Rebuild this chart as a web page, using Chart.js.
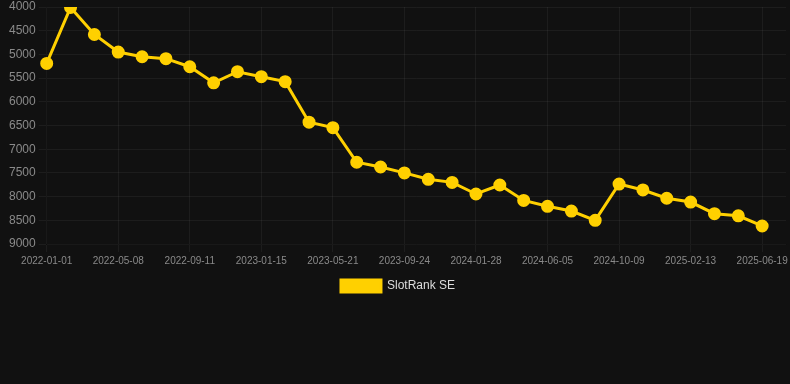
<!DOCTYPE html>
<html>
<head>
<meta charset="utf-8">
<script src="https://cdn.jsdelivr.net/npm/chart.js@4/dist/chart.umd.min.js"></script>
<style>
  html, body { margin: 0; padding: 0; background: #111111; }
  #wrap { position: relative; width: 790px; height: 302px; }
</style>
</head>
<body>
<div id="wrap"><canvas id="rankChart"></canvas></div>
<script>
// dates (every ~6 weeks), last label left blank as in the original axis
const dates = [
    '2022-01-01', '2022-02-12', '2022-03-26', '2022-05-08', '2022-06-19', '2022-07-31',
    '2022-09-11', '2022-10-23', '2022-12-04', '2023-01-15', '2023-02-26', '2023-04-09',
    '2023-05-21', '2023-07-02', '2023-08-13', '2023-09-24', '2023-11-05', '2023-12-17',
    '2024-01-28', '2024-03-11', '2024-04-23', '2024-06-05', '2024-07-17', '2024-08-28',
    '2024-10-09', '2024-11-20', '2025-01-01', '2025-02-13', '2025-03-27', '2025-05-08',
    '2025-06-19', ''
];

const rankSE = [
    5190, 4010, 4580, 4950, 5050, 5090, 5260, 5600, 5365, 5470, 5575,
    6430, 6545, 7275, 7375, 7500, 7635, 7700, 7945, 7755, 8080, 8205,
    8305, 8500, 7735, 7860, 8035, 8115, 8360, 8405, 8620, null
];

const yTicks = { min: 4000, max: 9000, step: 500 };

const ctx = document.getElementById('rankChart').getContext('2d');
const rankChart = new Chart(ctx, {
    type: 'line',
    data: {
        labels: dates,
        datasets: [{
            label: 'SlotRank SE',
            data: rankSE,
            borderColor: '#ffd000',
            backgroundColor: '#ffd000',
            borderWidth: 3,
            pointRadius: 5,
            pointHoverRadius: 6,
            pointBackgroundColor: '#ffd000',
            pointBorderColor: '#ffd000',
            tension: 0,
            fill: false
        }]
    },
    options: {
        responsive: true,
        maintainAspectRatio: false,
        animation: false,
        layout: { autoPadding: false, padding: { left: 6 } },
        scales: {
            x: {
                grid: { color: 'rgba(255,255,255,0.05)' },
                ticks: {
                    color: '#8a8a8a',
                    font: { family: 'Liberation Sans, Arial, sans-serif', size: 10 },
                    maxRotation: 0,
                    autoSkip: true
                },
                afterFit: scale => { scale.paddingRight = 4; }
            },
            y: {
                reverse: true,
                min: yTicks.min,
                max: yTicks.max,
                grid: { color: 'rgba(255,255,255,0.05)' },
                ticks: {
                    stepSize: yTicks.step,
                    color: '#8a8a8a',
                    font: { family: 'Liberation Sans, Arial, sans-serif', size: 12 },
                    callback: v => String(v)
                },
                afterFit: scale => { scale.paddingTop = 7; }
            }
        },
        plugins: {
            legend: {
                position: 'bottom',
                labels: {
                    color: '#dddddd',
                    boxWidth: 40,
                    boxHeight: 12,
                    font: { family: 'Liberation Sans, Arial, sans-serif', size: 12 }
                }
            },
            tooltip: { enabled: true }
        }
    }
});
</script>
</body>
</html>
